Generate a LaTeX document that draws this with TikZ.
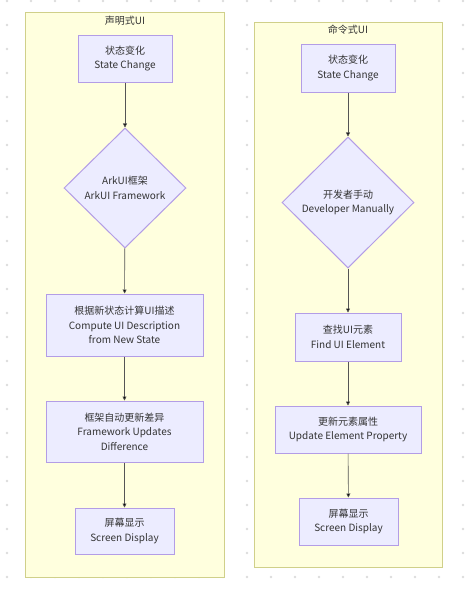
\documentclass[tikz,border=0pt]{standalone}
\usepackage{fontspec}
\setmainfont{Noto Sans CJK SC}
\usetikzlibrary{shapes.geometric,arrows.meta}
\definecolor{boxfill}{HTML}{ECECFF}
\definecolor{boxline}{HTML}{B39DE6}
\definecolor{grpfill}{HTML}{FFFFDE}
\definecolor{grpline}{HTML}{D0D08A}
\definecolor{ink}{HTML}{333333}
\definecolor{wire}{HTML}{555555}
\definecolor{dotgray}{HTML}{DCDCDC}

\begin{document}
\begin{tikzpicture}[x=1pt,y=-1pt,>={Triangle[length=4pt,width=4pt]},
    font=\fontsize{10}{14.5}\selectfont,text=ink,
    grp/.style={rectangle,draw=grpline,fill=grpfill,line width=1pt,inner sep=0pt},
    proc/.style={rectangle,draw=boxline,fill=boxfill,line width=1pt,align=center,inner sep=0pt},
    cond/.style={diamond,aspect=1,draw=boxline,fill=boxfill,line width=1pt,align=center,inner sep=0pt},
    flow/.style={->,draw=wire,line width=0.6pt}]
    \useasboundingbox (0,0) rectangle (466,590);
    \fill[white] (0,0) rectangle (466,590);
    \foreach \i in {0,...,19}
      \foreach \j in {0,...,24}
        \fill[dotgray] (7+24*\i,1+24*\j) circle (1.4pt);
    % groups
    \node[grp,minimum width=199pt,minimum height=565pt] (decl) at (124.5,294.5) {};
    \node[anchor=base] (declT) at (125,24) {声明式UI};
    \node[grp,minimum width=188pt,minimum height=545pt] (imp) at (348,294.5) {};
    \node[anchor=base] (impT) at (348,33) {命令式UI};
    % declarative
    \node[proc,minimum width=94pt,minimum height=47pt] (D1) at (125,58.5) {状态变化\\State Change};
    \node[cond,minimum width=122pt,minimum height=120pt] (D2) at (125,188) {ArkUI框架\\ArkUI Framework};
    \node[proc,minimum width=157pt,minimum height=62pt] (D3) at (124.5,325) {根据新状态计算UI描述\\Compute UI Description\\from New State};
    \node[proc,minimum width=157pt,minimum height=61pt] (D4) at (124.5,431.5) {框架自动更新差异\\Framework Updates\\Difference};
    \node[proc,minimum width=99pt,minimum height=46pt] (D5) at (124.5,531) {屏幕显示\\Screen Display};
    \path[flow] (D1) edge (D2);
    \path[flow] (D2) edge (D3);
    \path[flow] (D3) edge (D4);
    \path[flow] (D4) edge (D5);
    % imperative
    \node[proc,minimum width=94pt,minimum height=48pt] (I1) at (348,68) {状态变化\\State Change};
    \node[cond,minimum width=132pt,minimum height=131pt] (I2) at (348,202.5) {开发者手动\\Developer Manually};
    \node[proc,minimum width=106pt,minimum height=48pt] (I3) at (348,337) {查找UI元素\\Find UI Element};
    \node[proc,minimum width=146pt,minimum height=47pt] (I4) at (348,429.5) {更新元素属性\\Update Element Property};
    \node[proc,minimum width=99pt,minimum height=47pt] (I5) at (348.5,521.5) {屏幕显示\\Screen Display};
    \path[flow] (I1) edge (I2);
    \path[flow] (I2) edge (I3);
    \path[flow] (I3) edge (I4);
    \path[flow] (I4) edge (I5);
\end{tikzpicture}
\end{document}
